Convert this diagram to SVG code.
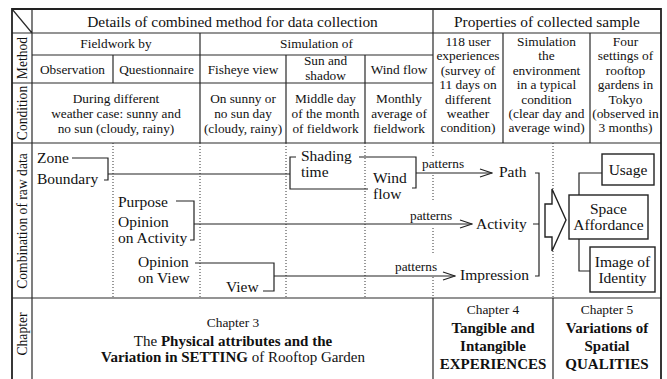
<svg xmlns="http://www.w3.org/2000/svg" width="667" height="379" viewBox="0 0 667 379" font-family="Liberation Serif, Times New Roman, serif">
<defs>
<style>
text{fill:#111}
.h{font-size:15.4px}
.b{font-size:13.3px}
.s{font-size:13.4px}
.c{font-size:15.5px}
.p{font-size:13.3px}
.v{font-size:13.6px}
.ch{font-size:13.4px}
.cb{font-size:15px}
.m{text-anchor:middle}
.bd{font-weight:bold}
.g{stroke:#2a2a2a;stroke-width:1.2;fill:none}
.o{stroke:#222;stroke-width:1.8;fill:none}
.d{stroke:#333;stroke-width:1;stroke-dasharray:1 2;fill:none}
.k{stroke:#222;stroke-width:1.2;fill:none}
.bx{stroke:#222;stroke-width:1.4;fill:#fff}
</style>
<marker id="ah" markerUnits="userSpaceOnUse" markerWidth="14" markerHeight="10" viewBox="0 0 14 10" refX="13" refY="5" orient="auto"><path d="M1,1 L13,5 L1,9" fill="none" stroke="#222" stroke-width="1.2"/></marker>
</defs>
<rect width="667" height="379" fill="#fff"/>

<g id="grid">
<path class="g" d="M32,9 V379 M12,9 L32,33 M12,33 H661 M32,55 H433 M12,83 H433 M12,143 H661 M12,298 H661 M433,9 V143 M200,33 V143 M113,55 V83 M286,55 V143 M365,55 V143 M503,33 V143 M590,33 V143 M433,298 V379 M553,298 V379"/>
<path class="d" d="M113,143 V298 M200,143 V298 M286,143 V298 M365,143 V298 M433,143 V158 M433,175 V202 M433,228 V253 M433,277 V298 M553,143 V298"/>
<path class="o" d="M12,379 V9 H661 V379"/>
</g>

<g id="row-labels">
<text class="v m" transform="translate(26.5,58) rotate(-90)">Method</text>
<text class="v m" transform="translate(26.5,113) rotate(-90)">Condition</text>
<text class="v m" transform="translate(26.5,221) rotate(-90)">Combination of raw data</text>
<text class="v m" transform="translate(26.5,334) rotate(-90)">Chapter</text>
</g>

<g id="h-details"><text class="h m" x="232.5" y="27">Details of combined method for data collection</text></g>
<g id="h-properties"><text class="h m" x="547" y="27">Properties of collected sample</text></g>
<g id="h-fieldwork"><text class="b m" x="116" y="48">Fieldwork by</text></g>
<g id="h-simulation"><text class="b m" x="316.5" y="48">Simulation of</text></g>
<g id="m-observation"><text class="b m" x="72.5" y="73.5">Observation</text></g>
<g id="m-questionnaire"><text class="b m" x="156.5" y="73.5">Questionnaire</text></g>
<g id="m-fisheye"><text class="b m" x="243" y="73.5">Fisheye view</text></g>
<g id="m-sun"><text class="b m" x="325.5" y="65">Sun and</text><text class="b m" x="325.5" y="80">shadow</text></g>
<g id="m-wind"><text class="b m" x="399" y="73.5">Wind flow</text></g>

<g id="c-fieldwork"><text class="b m" x="116" y="103">During different</text><text class="b m" x="116" y="118">weather case: sunny and</text><text class="b m" x="116" y="133">no sun (cloudy, rainy)</text></g>
<g id="c-fisheye"><text class="b m" x="243" y="103">On sunny or</text><text class="b m" x="243" y="118">no sun day</text><text class="b m" x="243" y="133">(cloudy, rainy)</text></g>
<g id="c-sun"><text class="b m" x="325.5" y="103">Middle day</text><text class="b m" x="325.5" y="118">of the month</text><text class="b m" x="325.5" y="133">of fieldwork</text></g>
<g id="c-wind"><text class="b m" x="399" y="103">Monthly</text><text class="b m" x="399" y="118">average of</text><text class="b m" x="399" y="133">fieldwork</text></g>

<g id="p-users">
<text class="s m" x="468" y="46">118 user</text><text class="s m" x="468" y="60.4">experiences</text><text class="s m" x="468" y="74.8">(survey of</text><text class="s m" x="468" y="89.2">11 days on</text><text class="s m" x="468" y="103.6">different</text><text class="s m" x="468" y="118">weather</text><text class="s m" x="468" y="132.4">condition)</text>
</g>
<g id="p-simulation">
<text class="s m" x="546.5" y="46">Simulation</text><text class="s m" x="546.5" y="60.4">the</text><text class="s m" x="546.5" y="74.8">environment</text><text class="s m" x="546.5" y="89.2">in a typical</text><text class="s m" x="546.5" y="103.6">condition</text><text class="s m" x="546.5" y="118">(clear day and</text><text class="s m" x="546.5" y="132.4">average wind)</text>
</g>
<g id="p-settings">
<text class="s m" x="625.5" y="46">Four</text><text class="s m" x="625.5" y="60.4">settings of</text><text class="s m" x="625.5" y="74.8">rooftop</text><text class="s m" x="625.5" y="89.2">gardens in</text><text class="s m" x="625.5" y="103.6">Tokyo</text><text class="s m" x="625.5" y="118">(observed in</text><text class="s m" x="625.5" y="132.4">3 months)</text>
</g>

<g id="connectors">
<path class="k" d="M72,158 H108 V180 H104"/>
<path class="k" d="M108,174 H290"/>
<path class="k" d="M296,157 H290 V189 H368"/>
<path class="k" d="M359,157 H416 V188 H412"/>
<path class="k" d="M416,173 H492" marker-end="url(#ah)"/>
<path class="k" d="M176,201 H194 V240 H190"/>
<path class="k" d="M194,224 H472" marker-end="url(#ah)"/>
<path class="k" d="M195,263 H274 V291 H263"/>
<path class="k" d="M274,276 H455" marker-end="url(#ah)"/>
<path class="k" d="M535,173 H539 V276 H535 M533,224 H539"/>
<polygon class="bx" points="545,204 552,204 552,189 566,220 552,251 552,237 545,237"/>
<path class="k" d="M579,195 V173 H602"/>
<path class="k" d="M579,239 V271 H590"/>
<text class="p" x="422" y="168">patterns</text>
<text class="p" x="410" y="220">patterns</text>
<text class="p" x="395" y="271">patterns</text>
</g>

<g id="n-zone"><text class="c" x="37" y="163">Zone</text><text class="c" x="37" y="184">Boundary</text></g>
<g id="n-purpose"><text class="c" x="118" y="207">Purpose</text><text class="c" x="118" y="227">Opinion</text><text class="c" x="118" y="243">on Activity</text></g>
<g id="n-opinion-view"><text class="c" x="138" y="267">Opinion</text><text class="c" x="138" y="283">on View</text></g>
<g id="n-view"><text class="c" x="226" y="292">View</text></g>
<g id="n-shading"><text class="c" x="301" y="161">Shading</text><text class="c" x="301" y="177">time</text></g>
<g id="n-wind"><text class="c" x="373" y="183">Wind</text><text class="c" x="373" y="199">flow</text></g>
<g id="n-path"><text class="c" x="499" y="177">Path</text></g>
<g id="n-activity"><text class="c" x="476" y="229">Activity</text></g>
<g id="n-impression"><text class="c" x="460" y="280">Impression</text></g>

<g id="n-usage"><rect class="bx" x="602" y="154" width="52" height="31"/><text class="c m" x="628" y="175">Usage</text></g>
<g id="n-affordance"><rect class="bx" x="569" y="195" width="79" height="44"/><text class="c m" x="608.5" y="214">Space</text><text class="c m" x="608.5" y="230">Affordance</text></g>
<g id="n-identity"><rect class="bx" x="590" y="247" width="65" height="45"/><text class="c m" x="622.5" y="266.5">Image of</text><text class="c m" x="622.5" y="283">Identity</text></g>

<g id="ch3">
<text class="ch m" x="233" y="327">Chapter 3</text>
<text class="cb m" x="233" y="346">The <tspan class="bd">Physical attributes and the</tspan></text>
<text class="cb m" x="233" y="362"><tspan class="bd">Variation in SETTING</tspan> of Rooftop Garden</text>
</g>
<g id="ch4">
<text class="ch m" x="493" y="314">Chapter 4</text>
<text class="cb m bd" x="493" y="333">Tangible and</text>
<text class="cb m bd" x="493" y="351">Intangible</text>
<text class="cb m bd" x="493" y="369">EXPERIENCES</text>
</g>
<g id="ch5">
<text class="ch m" x="607" y="314">Chapter 5</text>
<text class="cb m bd" x="607" y="333">Variations of</text>
<text class="cb m bd" x="607" y="351">Spatial</text>
<text class="cb m bd" x="607" y="369">QUALITIES</text>
</g>
</svg>
